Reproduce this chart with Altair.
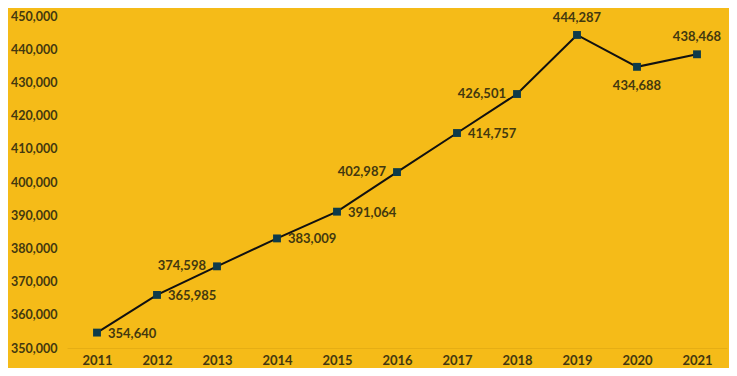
import altair as alt
import pandas as pd

years = ["2011", "2012", "2013", "2014", "2015", "2016", "2017", "2018", "2019", "2020", "2021"]
values = [354640, 365985, 374598, 383009, 391064, 402987, 414757, 426501, 444287, 434688, 438468]
label_side = ["right", "right", "left", "right", "right", "left", "right", "left", "above", "below", "above"]
y_ticks = [350000, 360000, 370000, 380000, 390000, 400000, 410000, 420000, 430000, 440000, 450000]

df = pd.DataFrame({"year": years, "value": values, "side": label_side})

BG = "#F5BB18"
TXT = "#43380F"
MARK = "#0E3B4A"
FONT = "Lato"

x = alt.X("year:O", scale=alt.Scale(type="point", padding=0.5),
          axis=alt.Axis(title=None, labelAngle=0, ticks=False, tickSize=0, labelPadding=6,
                        labelFont=FONT, labelFontSize=13, labelFontWeight="bold", labelColor=TXT,
                        domain=True, domainColor="#E6AE14", domainWidth=1, grid=False))
y = alt.Y("value:Q", scale=alt.Scale(domain=[350000, 450000], nice=False, zero=False),
          axis=alt.Axis(title=None, values=y_ticks, format=",d", ticks=False, tickSize=0, domain=False,
                        grid=False, labelPadding=10, labelFont=FONT, labelFontSize=12.5,
                        labelFontWeight="bold", labelColor=TXT))

base = alt.Chart(df).encode(x=x, y=y)

line = base.mark_line(color="#111111", strokeWidth=2)
pts = base.mark_point(shape="square", filled=True, size=62, color=MARK, opacity=1)

def txt(side, **kw):
    return base.transform_filter(alt.datum.side == side).mark_text(
        font=FONT, fontSize=13, fontWeight="bold", color=TXT, **kw
    ).encode(text=alt.Text("value:Q", format=",d"))

t_right = txt("right", align="left", baseline="middle", dx=11, dy=1)
t_left = txt("left", align="right", baseline="middle", dx=-11, dy=0)
t_above = txt("above", align="center", baseline="middle", dy=-17)
t_below = txt("below", align="center", baseline="middle", dy=19)

chart = alt.layer(line, pts, t_right, t_left, t_above, t_below).properties(
    width=660, height=332,
    autosize=alt.AutoSizeParams(type="none"),
    padding={"left": 59, "top": 8, "right": 2, "bottom": 20},
    background=BG,
).configure_view(stroke=None)

chart.save("out.html", embed_options={"renderer": "svg", "actions": False})
